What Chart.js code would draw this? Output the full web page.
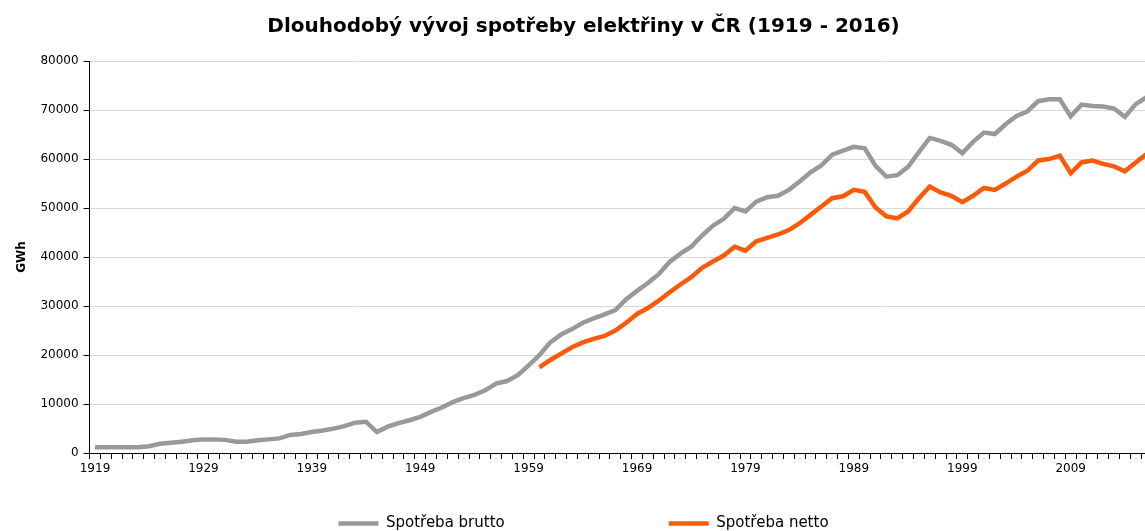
<!DOCTYPE html>
<html>
<head>
<meta charset="utf-8">
<script src="https://cdn.jsdelivr.net/npm/chart.js@4/dist/chart.umd.min.js"></script>
<style>
    html, body { margin: 0; padding: 0; background: #fff; overflow: hidden; }
    #wrap { width: 1160px; height: 541px; position: relative; }
</style>
</head>
<body>
<div id="wrap"><canvas id="elChart"></canvas></div>
<script>
const firstYear = 1919;
const lastYear = 2016;
const years = [];
for (let y = firstYear; y <= lastYear; y++) years.push(String(y));

// spotreba brutto, GWh, 1919 - 2016
const brutto = [
    1200, 1200, 1200, 1200, 1200, 1400, 1900, 2100, 2300, 2600,
    2800, 2800, 2700, 2300, 2300, 2600, 2800, 3000, 3700, 3900,
    4300, 4600, 5000, 5500, 6200, 6400, 4300, 5400, 6100, 6700,
    7400, 8400, 9300, 10400, 11200, 11900, 12800, 14200, 14700, 15900,
    17900, 20000, 22600, 24200, 25300, 26600, 27500, 28300, 29200, 31400,
    33100, 34700, 36500, 39000, 40700, 42100, 44400, 46400, 47800, 50000,
    49300, 51300, 52200, 52500, 53700, 55400, 57300, 58700, 60900, 61700,
    62500, 62200, 58600, 56400, 56700, 58400, 61400, 64300, 63700, 62900,
    61200, 63500, 65400, 65100, 67100, 68800, 69700, 71800, 72200, 72200,
    68700, 71100, 70800, 70700, 70300, 68600, 71200, 72600
];

// spotreba netto, GWh, from 1960
const nettoStartYear = 1960;
const netto = [
    17500, 19000, 20300, 21600, 22600, 23300, 23900, 25000, 26600, 28400,
    29600, 31100, 32800, 34400, 35900, 37800, 39100, 40300, 42100, 41300,
    43200, 43900, 44600, 45500, 46900, 48600, 50300, 52000, 52400, 53700,
    53300, 50100, 48300, 47900, 49300, 52000, 54400, 53200, 52500, 51200,
    52500, 54100, 53700, 55000, 56400, 57600, 59700, 60000, 60700, 57100,
    59300, 59700, 59000, 58500, 57500, 59300, 61000
];

const yTicks = [0, 10000, 20000, 30000, 40000, 50000, 60000, 70000, 80000];

const nettoFull = years.map(y => {
    const i = Number(y) - nettoStartYear;
    return i >= 0 ? netto[i] : null;
});

const font = "'DejaVu Sans', Verdana, sans-serif";

const ctx = document.getElementById('elChart').getContext('2d');
const chart = new Chart(ctx, {
    type: 'line',
    data: {
        labels: years,
        datasets: [{
            label: 'Spotřeba brutto',
            data: brutto,
            borderColor: '#999999',
            backgroundColor: '#999999',
            borderWidth: 4.5,
            pointRadius: 0,
            tension: 0
        }, {
            label: 'Spotřeba netto',
            data: nettoFull,
            borderColor: '#fa5a0a',
            backgroundColor: '#fa5a0a',
            borderWidth: 4.5,
            pointRadius: 0,
            tension: 0
        }]
    },
    options: {
        responsive: true,
        maintainAspectRatio: false,
        animation: false,
        layout: { padding: { top: 10, right: 8, left: 15, bottom: 0 } },
        plugins: {
            title: {
                display: true,
                text: 'Dlouhodobý vývoj spotřeby elektřiny v ČR (1919 - 2016)',
                color: '#000',
                font: { family: font, size: 20, weight: 'bold' },
                padding: { top: 5, bottom: 22 }
            },
            legend: {
                position: 'bottom',
                labels: {
                    color: '#000',
                    font: { family: font, size: 15 },
                    usePointStyle: true,
                    pointStyle: 'line',
                    pointStyleWidth: 40,
                    boxHeight: 13,
                    padding: 36.5,
                    generateLabels: chart => {
                        const items = Chart.defaults.plugins.legend.labels.generateLabels(chart);
                        // wide gap between the two legend entries
                        items[0].text += '\u2003'.repeat(8) + '\u2002';
                        return items;
                    }
                }
            },
            tooltip: { enabled: false }
        },
        scales: {
            x: {
                offset: true,
                grid: { drawOnChartArea: false, tickLength: 6, tickColor: '#000', offset: true },
                border: { color: '#000', width: 1 },
                ticks: {
                    autoSkip: false,
                    maxRotation: 0,
                    color: '#000',
                    padding: 3,
                    font: { family: font, size: 12 },
                    callback: (val, idx) => (idx % 10 === 0 ? years[idx] : '')
                }
            },
            y: {
                min: 0,
                max: 80000,
                afterBuildTicks: axis => { axis.ticks = yTicks.map(v => ({ value: v })); },
                grid: { color: '#d9d9d9', tickColor: '#000', tickLength: 6 },
                border: { color: '#000', width: 1 },
                ticks: {
                    color: '#000',
                    padding: 5,
                    font: { family: font, size: 12 },
                    callback: v => String(v)
                },
                title: {
                    display: true,
                    text: 'GWh',
                    color: '#000',
                    font: { family: font, size: 12, weight: 'bold' },
                    padding: { top: 0, bottom: 6 }
                }
            }
        }
    }
});
</script>
</body>
</html>
